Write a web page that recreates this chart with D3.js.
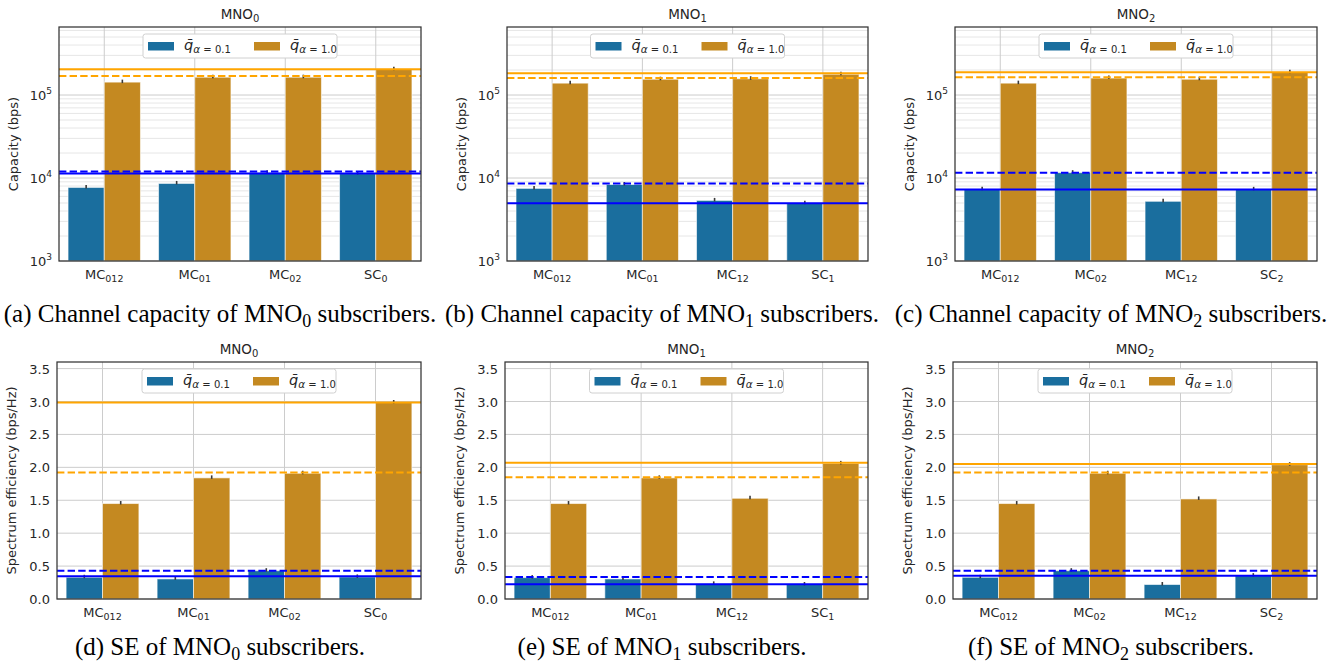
<!DOCTYPE html>
<html>
<head>
<meta charset="utf-8">
<script src="https://cdn.jsdelivr.net/npm/d3@7"></script>
<style>
	body { margin: 0; background: #fff; }
	text { font-family: "DejaVu Sans", sans-serif; fill: #262626; }
	.caption { font-family: "Liberation Serif", "Times New Roman", serif; fill: #000; }
</style>
</head>
<body>
<div id="chart"></div>
<script>
"use strict";

//
// Data
//
var mnoIds = ["0", "1", "2"];
var captionLetters = [["a", "b", "c"], ["d", "e", "f"]];

// categories as [base, subscript]
var categories = [
	[["MC", "012"], ["MC", "01"], ["MC", "02"], ["SC", "0"]],
	[["MC", "012"], ["MC", "01"], ["MC", "12"], ["SC", "1"]],
	[["MC", "012"], ["MC", "02"], ["MC", "12"], ["SC", "2"]]
];
var seriesLabels = ["0.1", "1.0"];

// channel capacity (bps), one row per MNO
var capLow  = [[7700, 8600, 11600, 11300], [7500, 8350, 5370, 4950], [7300, 11600, 5240, 7300]];
var capHigh = [[143000, 164000, 164000, 205000], [139000, 155000, 157000, 178000], [139000, 160000, 155000, 188000]];
var capSolidLow  = [11300, 4950, 7280];
var capDashLow   = [12000, 8600, 11600];
var capSolidHigh = [205000, 183000, 188000];
var capDashHigh  = [169000, 160000, 164000];
var capTicks = [1e3, 1e4, 1e5];

// spectrum efficiency (bps/Hz)
var seLow  = [[0.33, 0.305, 0.43, 0.335], [0.325, 0.305, 0.23, 0.22], [0.33, 0.43, 0.22, 0.355]];
var seHigh = [[1.45, 1.84, 1.91, 2.985], [1.45, 1.84, 1.53, 2.06], [1.45, 1.91, 1.52, 2.04]];
var seSolidLow  = [0.345, 0.223, 0.355];
var seDashLow   = [0.43, 0.335, 0.43];
var seSolidHigh = [2.985, 2.07, 2.05];
var seDashHigh  = [1.92, 1.85, 1.92];
var seTicks = [0, 0.5, 1.0, 1.5, 2.0, 2.5, 3.0, 3.5];

//
// Layout / style
//
var W = 1339, H = 669;
var colors = ["#1a6e9e", "#c48921"];
var lineColors = ["#0000ff", "#ffa500"];
var rows = [
	{ left: [59, 507, 955], right: [421, 868, 1317], top: 27, bottom: 261 },
	{ left: [57, 505, 953], right: [421, 868, 1317], top: 362, bottom: 599 }
];
var captionX = [220, 662, 1111];
var captionY = [322, 655];
var fs = 13;

var svg = d3.select("#chart").append("svg")
	.attr("width", W)
	.attr("height", H);

function subText(sel, base, sub, subSize, shift) {
	sel.append("tspan").text(base);
	sel.append("tspan").attr("font-size", subSize).attr("dy", shift).text(sub);
}

function drawPanel(p) {
	var g = svg.append("g");
	var x = d3.scaleBand().domain(d3.range(p.cats.length))
		.range([p.left, p.right]).paddingInner(0.2).paddingOuter(0.1);
	var xs = d3.scaleBand().domain([0, 1]).range([0, x.bandwidth()]);
	var y = p.y;

	// grid
	if (p.log) {
		var minor = [];
		[3, 4, 5].forEach(function(k) {
			for (var m = 2; m <= 9; m++) {
				var v = m * Math.pow(10, k);
				if (v < y.domain()[1]) minor.push(v);
			}
		});
		g.selectAll(".minor").data(minor).enter().append("line")
			.attr("x1", p.left).attr("x2", p.right)
			.attr("y1", function(d) { return y(d); }).attr("y2", function(d) { return y(d); })
			.attr("stroke", "#e0e0e0").attr("stroke-width", 0.8);
	}
	g.selectAll(".hgrid").data(p.ticks).enter().append("line")
		.attr("x1", p.left).attr("x2", p.right)
		.attr("y1", function(d) { return y(d); }).attr("y2", function(d) { return y(d); })
		.attr("stroke", "#cccccc").attr("stroke-width", 1);
	g.selectAll(".vgrid").data(p.cats).enter().append("line")
		.attr("x1", function(d, i) { return x(i) + x.bandwidth() / 2; })
		.attr("x2", function(d, i) { return x(i) + x.bandwidth() / 2; })
		.attr("y1", p.top).attr("y2", p.bottom)
		.attr("stroke", "#cccccc").attr("stroke-width", 1);

	// bars
	[p.low, p.high].forEach(function(vals, s) {
		g.selectAll(".bar" + s).data(vals).enter().append("rect")
			.attr("x", function(d, i) { return x(i) + xs(s); })
			.attr("width", xs.bandwidth())
			.attr("y", function(d) { return y(d); })
			.attr("height", function(d) { return p.bottom - y(d); })
			.attr("fill", colors[s])
			.attr("stroke", "rgba(255,255,255,0.6)")
			.attr("stroke-width", 1);
		g.selectAll(".err" + s).data(vals).enter().append("line")
			.attr("x1", function(d, i) { return x(i) + xs(s) + xs.bandwidth() / 2; })
			.attr("x2", function(d, i) { return x(i) + xs(s) + xs.bandwidth() / 2; })
			.attr("y1", function(d) { return y(d) - 2.5; })
			.attr("y2", function(d) { return y(d) + 1; })
			.attr("stroke", "#3a3a3a").attr("stroke-width", 1.6);
	});

	// reference lines
	var refs = [
		{ v: p.solidLow, c: lineColors[0], dash: null },
		{ v: p.dashLow, c: lineColors[0], dash: "7.4,3.2" },
		{ v: p.solidHigh, c: lineColors[1], dash: null },
		{ v: p.dashHigh, c: lineColors[1], dash: "7.4,3.2" }
	];
	g.selectAll(".ref").data(refs).enter().append("line")
		.attr("x1", p.left).attr("x2", p.right)
		.attr("y1", function(d) { return y(d.v); }).attr("y2", function(d) { return y(d.v); })
		.attr("stroke", function(d) { return d.c; })
		.attr("stroke-width", 2)
		.attr("stroke-dasharray", function(d) { return d.dash; });

	// frame
	g.append("rect")
		.attr("x", p.left).attr("y", p.top)
		.attr("width", p.right - p.left).attr("height", p.bottom - p.top)
		.attr("fill", "none").attr("stroke", "#333").attr("stroke-width", 1.25);

	// y tick labels
	var yt = g.selectAll(".ytick").data(p.ticks).enter().append("text")
		.attr("x", p.left - 7)
		.attr("y", function(d) { return y(d) + 5; })
		.attr("text-anchor", "end")
		.attr("font-size", fs);
	if (p.log) {
		yt.each(function(d) {
			var t = d3.select(this);
			t.append("tspan").text("10");
			t.append("tspan").attr("font-size", 9).attr("dy", -6)
				.text(Math.round(Math.log10(d)));
		});
	} else {
		yt.text(function(d) { return d3.format(".1f")(d); });
	}

	// x tick labels
	g.selectAll(".xtick").data(p.cats).enter().append("text")
		.attr("x", function(d, i) { return x(i) + x.bandwidth() / 2; })
		.attr("y", p.bottom + 18)
		.attr("text-anchor", "middle")
		.attr("font-size", fs)
		.each(function(d) { subText(d3.select(this), d[0], d[1], 9.5, 3); });

	// y label
	g.append("text")
		.attr("transform", "translate(" + (p.left - 41) + "," + ((p.top + p.bottom) / 2) + ") rotate(-90)")
		.attr("text-anchor", "middle")
		.attr("font-size", fs)
		.text(p.ylabel);

	// title
	g.append("text")
		.attr("x", (p.left + p.right) / 2)
		.attr("y", p.top - 8)
		.attr("text-anchor", "middle")
		.attr("font-size", 13.5)
		.each(function() { subText(d3.select(this), "MNO", p.mno, 10, 3); });

	// legend
	var cx = (p.left + p.right) / 2;
	var lg = g.append("g").attr("transform", "translate(" + (cx - 97) + "," + (p.top + 7) + ")");
	lg.append("rect")
		.attr("width", 194).attr("height", 24).attr("rx", 2.5)
		.attr("fill", "#fff").attr("stroke", "#d0d0d0");
	seriesLabels.forEach(function(lab, s) {
		var ox = 5 + s * 106;
		lg.append("rect")
			.attr("x", ox).attr("y", 8).attr("width", 26).attr("height", 8.5)
			.attr("fill", colors[s]);
		var t = lg.append("text")
			.attr("x", ox + 36).attr("y", 16)
			.attr("font-size", 14.5);
		t.append("tspan").attr("font-style", "italic").text("q\u0304");
		t.append("tspan").attr("font-size", 10.5).attr("dy", 3).attr("font-style", "italic").text("\u03b1");
		t.append("tspan").attr("font-size", 10).text(" = " + lab);
	});
}

mnoIds.forEach(function(id, i) {
	drawPanel({
		mno: id, cats: categories[i], log: true,
		left: rows[0].left[i], right: rows[0].right[i], top: rows[0].top, bottom: rows[0].bottom,
		y: d3.scaleLog().domain([1e3, 6.6e5]).range([rows[0].bottom, rows[0].top]),
		ticks: capTicks, low: capLow[i], high: capHigh[i],
		solidLow: capSolidLow[i], dashLow: capDashLow[i], solidHigh: capSolidHigh[i], dashHigh: capDashHigh[i],
		ylabel: "Capacity (bps)"
	});
	drawPanel({
		mno: id, cats: categories[i], log: false,
		left: rows[1].left[i], right: rows[1].right[i], top: rows[1].top, bottom: rows[1].bottom,
		y: d3.scaleLinear().domain([0, 3.6]).range([rows[1].bottom, rows[1].top]),
		ticks: seTicks, low: seLow[i], high: seHigh[i],
		solidLow: seSolidLow[i], dashLow: seDashLow[i], solidHigh: seSolidHigh[i], dashHigh: seDashHigh[i],
		ylabel: "Spectrum efficiency (bps/Hz)"
	});
});

//
// Captions
//
mnoIds.forEach(function(id, i) {
	var t0 = svg.append("text").attr("class", "caption")
		.attr("x", captionX[i]).attr("y", captionY[0])
		.attr("text-anchor", "middle").attr("font-size", 25);
	t0.append("tspan").text("(" + captionLetters[0][i] + ") Channel capacity of MNO");
	t0.append("tspan").attr("font-size", 18).attr("dy", 5).text(id);
	t0.append("tspan").attr("dy", -5).text(" subscribers.");

	var t1 = svg.append("text").attr("class", "caption")
		.attr("x", captionX[i]).attr("y", captionY[1])
		.attr("text-anchor", "middle").attr("font-size", 25);
	t1.append("tspan").text("(" + captionLetters[1][i] + ") SE of MNO");
	t1.append("tspan").attr("font-size", 18).attr("dy", 5).text(id);
	t1.append("tspan").attr("dy", -5).text(" subscribers.");
});
</script>
</body>
</html>
